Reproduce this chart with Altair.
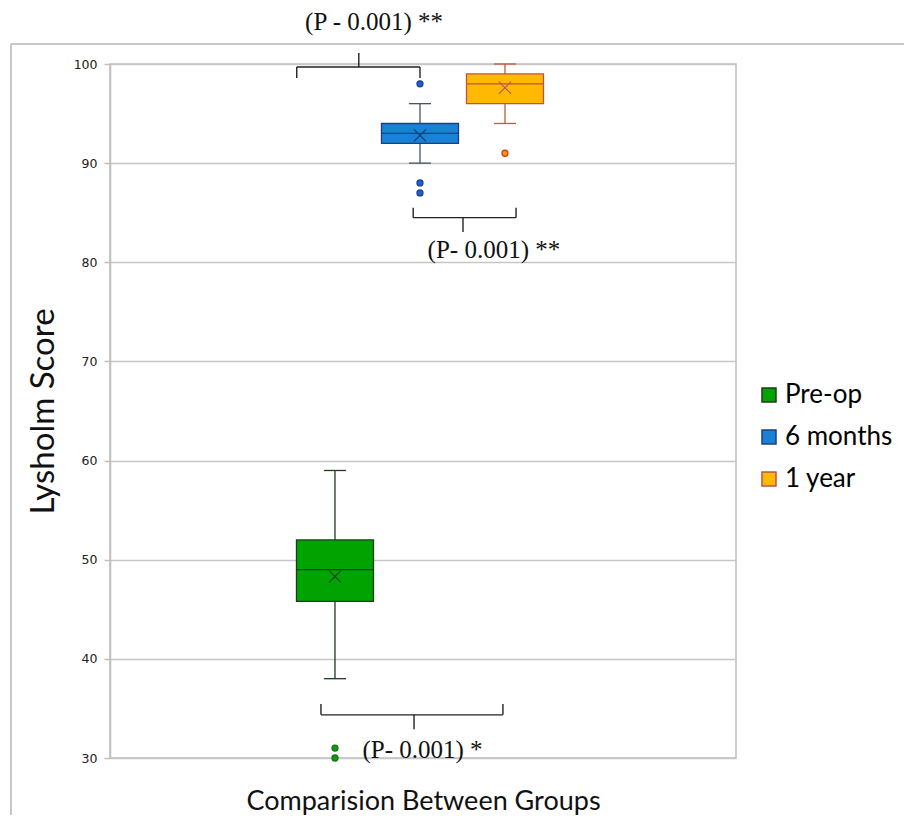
import altair as alt
import pandas as pd

# ---- data ----
groups = ["Pre-op", "6 months", "1 year"]
positions = [0, 1, 2]
q1 = [45.8, 92.0, 96.0]
median = [49.0, 93.0, 98.0]
q3 = [52.0, 94.0, 99.0]
mean = [48.3, 92.8, 97.6]
whisker_low = [38.0, 90.0, 94.0]
whisker_high = [59.0, 96.0, 100.0]

outlier_group = ["Pre-op", "Pre-op", "6 months", "6 months", "6 months", "1 year"]
outlier_value = [31, 30, 98, 88, 87, 91]

y_ticks = [30, 40, 50, 60, 70, 80, 90, 100]

# significance brackets (x in group-index units, y in score units)
bracket_left = [-0.45, 0.92, -0.165]
bracket_right = [1.0, 2.13, 1.976]
bracket_mid = [0.28, 1.506, 0.93]
bracket_level = [99.7, 84.5, 34.35]
bracket_end = [98.6, 85.5, 35.45]
bracket_tip = [101.1, 83.05, 32.9]
p_labels = ["(P - 0.001) **", "(P- 0.001) **", "(P- 0.001) *"]
p_label_x = [0.46, 1.87, 1.03]
p_label_y = [104.2, 81.2, 30.8]

# ---- styles ----
fills = ["#00a300", "#1883d6", "#ffb900"]
box_strokes = ["#1e3b1e", "#1f3f80", "#c0504d"]
whisker_colors = ["#1e3b1e", "#44546a", "#c55a3a"]
outlier_fills = ["#00a300", "#1f5fd0", "#ff9a00"]
outlier_strokes = ["#1e6b1e", "#1a3f9a", "#d03a2a"]

HALF = 0.453
CAP = 0.13
XT = "Comparision Between Groups"
YT = "Lysholm Score"

boxes = pd.DataFrame({
    "group": groups, "pos": positions, "q1": q1, "median": median, "q3": q3,
    "mean": mean, "lo": whisker_low, "hi": whisker_high,
})
outliers = pd.DataFrame({"group": outlier_group, "value": outlier_value})
brackets = pd.DataFrame({
    "left": bracket_left, "right": bracket_right, "mid": bracket_mid,
    "level": bracket_level, "end": bracket_end, "tip": bracket_tip,
    "label": p_labels, "lx": p_label_x, "ly": p_label_y,
})

xscale = alt.Scale(domain=[-2.647, 4.718], nice=False, zero=False)
yscale = alt.Scale(domain=[30, 100], nice=False, zero=False)
yaxis = alt.Axis(values=y_ticks)


def X(f):
    return alt.X(f, type="quantitative", scale=xscale, title=XT)


def X2(f):
    return alt.X2(f)


def Y(f):
    return alt.Y(f, type="quantitative", scale=yscale, title=YT, axis=yaxis)


def strokeenc(rng):
    return alt.Stroke("group:N", scale=alt.Scale(domain=groups, range=rng), legend=None)


base = alt.Chart(boxes).transform_calculate(
    x_lo=f"datum.pos - {HALF}", x_hi=f"datum.pos + {HALF}",
    c_lo=f"datum.pos - {CAP}", c_hi=f"datum.pos + {CAP}",
)

whisk_up = base.mark_rule(strokeWidth=1.3).encode(
    x=X("pos"), y=Y("q3"), y2=alt.Y2("hi"), stroke=strokeenc(whisker_colors))
whisk_dn = base.mark_rule(strokeWidth=1.3).encode(
    x=X("pos"), y=Y("lo"), y2=alt.Y2("q1"), stroke=strokeenc(whisker_colors))
cap_hi = base.mark_rule(strokeWidth=1.3).encode(
    x=X("c_lo"), x2=X2("c_hi"), y=Y("hi"), stroke=strokeenc(whisker_colors))
cap_lo = base.mark_rule(strokeWidth=1.3).encode(
    x=X("c_lo"), x2=X2("c_hi"), y=Y("lo"), stroke=strokeenc(whisker_colors))

legend_cfg = dict(
    title=None, orient="none", legendX=646, legendY=318,
    symbolType="square", symbolSize=196, symbolStrokeWidth=1.5,
    labelFont="Lato", labelFontSize=26, labelColor="#000000",
    rowPadding=16, labelOffset=3,
)

box = base.mark_bar(strokeWidth=1.3).encode(
    x=X("x_lo"), x2=X2("x_hi"), y=Y("q1"), y2=alt.Y2("q3"),
    fill=alt.Fill("group:N", scale=alt.Scale(domain=groups, range=fills),
                  legend=alt.Legend(**legend_cfg)),
    stroke=alt.Stroke("group:N", scale=alt.Scale(domain=groups, range=box_strokes),
                      legend=alt.Legend(**legend_cfg)),
)

med = base.mark_rule(strokeWidth=1.3).encode(
    x=X("x_lo"), x2=X2("x_hi"), y=Y("median"), stroke=strokeenc(box_strokes))

mean_mark = base.mark_point(
    shape="M-1,-1L1,1M-1,1L1,-1", filled=False, size=150, strokeWidth=1.1, opacity=1
).encode(x=X("pos"), y=Y("mean"), stroke=strokeenc(box_strokes))

out_pts = alt.Chart(outliers).transform_lookup(
    lookup="group", from_=alt.LookupData(boxes, "group", ["pos"])
).mark_point(shape="circle", filled=True, size=36, strokeWidth=1.3, opacity=1).encode(
    x=X("pos"), y=Y("value"),
    fill=alt.Fill("group:N", scale=alt.Scale(domain=groups, range=outlier_fills), legend=None),
    stroke=strokeenc(outlier_strokes),
)

bb = alt.Chart(brackets)
br_h = bb.mark_rule(color="#222222", strokeWidth=1.4).encode(
    x=X("left"), x2=X2("right"), y=Y("level"))
br_l = bb.mark_rule(color="#222222", strokeWidth=1.4).encode(
    x=X("left"), y=Y("level"), y2=alt.Y2("end"))
br_r = bb.mark_rule(color="#222222", strokeWidth=1.4).encode(
    x=X("right"), y=Y("level"), y2=alt.Y2("end"))
br_m = bb.mark_rule(color="#222222", strokeWidth=1.4).encode(
    x=X("mid"), y=Y("level"), y2=alt.Y2("tip"))
br_t = bb.mark_text(font="Liberation Serif", fontSize=25, color="#111111",
                    align="center", baseline="middle").encode(
    x=X("lx"), y=Y("ly"), text="label:N")

# outer chart-area frame (decoration)
frame_df = pd.DataFrame({"k": [0]})
frame_top = alt.Chart(frame_df).mark_rule(color="#c8c8c8", strokeWidth=2).encode(
    x=alt.value(-99), x2=alt.value(820), y=alt.value(-20))
frame_left = alt.Chart(frame_df).mark_rule(color="#c8c8c8", strokeWidth=2).encode(
    x=alt.value(-99), y=alt.value(-20), y2=alt.value(770))

chart = alt.layer(
    frame_top, frame_left,
    whisk_up, whisk_dn, cap_hi, cap_lo, box, med, mean_mark, out_pts,
    br_h, br_l, br_r, br_m, br_t,
).resolve_scale(
    stroke="independent", fill="independent"
).properties(
    width=626, height=694,
    autosize=alt.AutoSizeParams(type="none"),
    padding={"left": 102, "top": 56, "right": 168, "bottom": 57},
).configure_view(
    stroke="#bfbfbf", strokeWidth=1.5
).configure_axisX(
    labels=False, ticks=False, domain=False, grid=False,
    titleFont="Lato", titleFontSize=27, titleFontWeight="normal",
    titleColor="#111111", titlePadding=30,
).configure_axisY(
    grid=True, gridColor="#c6c6c6", gridWidth=1.5,
    domainColor="#bfbfbf", domainWidth=1.5, tickColor="#bfbfbf", tickSize=6,
    tickWidth=1.5, labelFont="DejaVu Sans", labelFontSize=12.5, labelPadding=7,
    labelColor="#222222",
    titleFont="Lato", titleFontSize=33, titleFontWeight="normal", titleColor="#111111",
    titleX=-67, titleY=347, titleAngle=270, titleAlign="center", titleBaseline="middle",
)

chart.save("out.html", embed_options={"renderer": "svg", "actions": False})
